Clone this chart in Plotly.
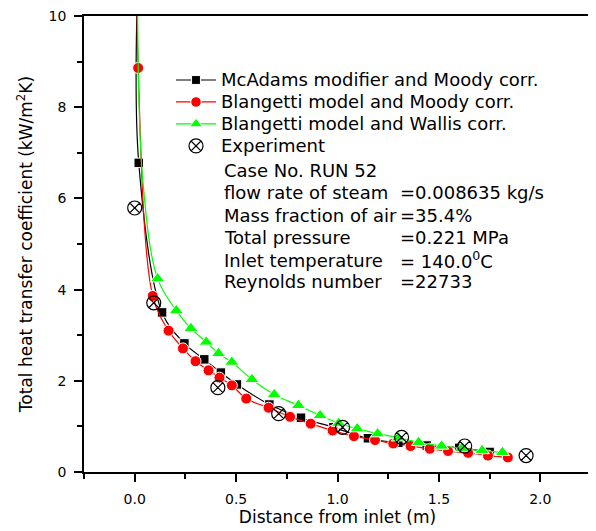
import plotly.graph_objects as go

# ---- data ----
# first point of each model curve is where the curve leaves the top of the frame (no marker)
mcadams_x = [0.012, 0.020, 0.135, 0.245, 0.343, 0.425, 0.504, 0.664, 0.820, 0.980, 1.150, 1.300, 1.440, 1.600, 1.750]
mcadams_y = [10.3, 6.78, 3.50, 2.82, 2.47, 2.18, 1.92, 1.48, 1.19, 0.98, 0.74, 0.64, 0.58, 0.53, 0.44]

blangetti_moody_x = [0.013, 0.017, 0.089, 0.167, 0.238, 0.300, 0.364, 0.418, 0.479, 0.550, 0.660, 0.766, 0.868,
                     0.976, 1.081, 1.185, 1.275, 1.360, 1.455, 1.545, 1.644, 1.742, 1.840]
blangetti_moody_y = [10.3, 8.86, 3.86, 3.10, 2.71, 2.43, 2.23, 2.07, 1.90, 1.61, 1.41, 1.21, 1.06,
                     0.91, 0.785, 0.70, 0.625, 0.57, 0.51, 0.46, 0.42, 0.36, 0.32]

blangetti_wallis_x = [0.014, 0.040, 0.113, 0.205, 0.277, 0.353, 0.413, 0.479, 0.578, 0.688, 0.807, 0.914, 1.006,
                      1.097, 1.198, 1.300, 1.400, 1.513, 1.613, 1.713, 1.813]
blangetti_wallis_y = [10.3, 6.4, 4.24, 3.54, 3.15, 2.85, 2.60, 2.41, 2.03, 1.70, 1.46, 1.24, 1.07,
                      0.95, 0.84, 0.75, 0.65, 0.57, 0.52, 0.47, 0.43]
wallis_hidden_markers = 2   # leading curve points drawn without a marker

exp_x = [0.000, 0.094, 0.410, 0.710, 1.025, 1.316, 1.627, 1.930]
exp_y = [5.79, 3.71, 1.85, 1.28, 0.98, 0.76, 0.57, 0.36]

series_names = ["McAdams modifier and Moody corr.", "Blangetti model and Moody corr.",
                "Blangetti model and Wallis corr.", "Experiment"]

info_labels = ["Case No. RUN 52", "flow rate of steam", "Mass fraction of air",
               "Total pressure", "Inlet temperature", "Reynolds number"]
info_values = ["", "=0.008635 kg/s", "=35.4%", "=0.221 MPa", "= 140.0<sup>0</sup>C", "=22733"]

x_ticks = [0.0, 0.5, 1.0, 1.5, 2.0]
y_ticks = [0, 2, 4, 6, 8, 10]

FONT = "DejaVu Sans, Liberation Sans, Arial, sans-serif"
TXT = 18

def big(s):
    return f'<span style="font-size:{TXT}px">{s}</span>'

def sizes(n, size, hidden=1):
    return [0] * hidden + [size] * (n - hidden)

fig = go.Figure()

fig.add_trace(go.Scatter(x=mcadams_x, y=mcadams_y, mode="lines+markers",
                         name=big(series_names[0]),
                         line=dict(color="black", width=1.2, shape="spline", smoothing=1),
                         marker=dict(symbol="square", size=sizes(len(mcadams_x), 9.5),
                                     color="black", opacity=1)))
fig.add_trace(go.Scatter(x=blangetti_moody_x, y=blangetti_moody_y, mode="lines+markers",
                         name=big(series_names[1]),
                         line=dict(color="#FF0000", width=1.2, shape="spline", smoothing=1),
                         marker=dict(symbol="circle", size=sizes(len(blangetti_moody_x), 11),
                                     color="#FF0000", opacity=1)))
fig.add_trace(go.Scatter(x=blangetti_wallis_x, y=blangetti_wallis_y, mode="lines+markers",
                         name=big(series_names[2]),
                         line=dict(color="#00FF00", width=1.2, shape="spline", smoothing=1),
                         marker=dict(symbol="triangle-up",
                                     size=sizes(len(blangetti_wallis_x), 12.5, wallis_hidden_markers),
                                     color="#00FF00", opacity=1)))
fig.add_trace(go.Scatter(x=exp_x, y=exp_y, mode="markers", name=big(series_names[3]),
                         marker=dict(symbol="circle-x-open", size=14, color="black", opacity=1,
                                     line=dict(width=1.2, color="black"))))

# positions below are in window pixels of the reference (plot frame 84..591 x 16..472)
row_px = [170, 192.5, 215, 237.5, 260, 282]
plot_top, plot_bot, plot_left, plot_w = 16, 472, 84, 507
for lab, val, py in zip(info_labels, info_values, row_px):
    yy = (plot_bot - py) / (plot_bot - plot_top)
    fig.add_annotation(x=(222 - plot_left) / plot_w, y=yy, xref="paper", yref="paper",
                       text=lab, showarrow=False, xanchor="left", yanchor="middle",
                       font=dict(family=FONT, size=TXT, color="black"))
    if val:
        fig.add_annotation(x=(398 - plot_left) / plot_w, y=yy, xref="paper", yref="paper",
                           text=val, showarrow=False, xanchor="left", yanchor="middle",
                           font=dict(family=FONT, size=TXT, color="black"))

# the page body adds an 8px offset, so the figure is 8px smaller and margins are 8px less
fig.update_layout(
    width=588, height=523,
    margin=dict(l=76, r=5, t=8, b=59),
    paper_bgcolor="white", plot_bgcolor="white",
    font=dict(family=FONT, size=14, color="black"),
    showlegend=True,
    legend=dict(x=(171 - plot_left) / plot_w, y=(plot_bot - 64) / (plot_bot - plot_top),
                xanchor="left", yanchor="top", bgcolor="rgba(0,0,0,0)",
                font=dict(family=FONT, size=14.6, color="black"),
                tracegroupgap=0, itemwidth=40),
)
fig.update_xaxes(range=[-0.25, 2.25], tickvals=x_ticks, ticktext=[f"{v:.1f}" for v in x_ticks],
                 ticks="outside", ticklen=8, tickwidth=1.5, tickcolor="black",
                 minor=dict(dtick=0.25, tick0=0, ticks="outside", ticklen=5, tickwidth=1.5, tickcolor="black"),
                 showline=True, linecolor="black", linewidth=1.5, mirror=True,
                 showgrid=False, zeroline=False, automargin=False,
                 title=dict(text="Distance from inlet (m)", font=dict(family=FONT, size=17), standoff=2),
                 tickfont=dict(family=FONT, size=14), ticklabelstandoff=5,
                 ticklabeloverflow="allow")
fig.update_yaxes(range=[0, 10], tickvals=y_ticks,
                 ticks="outside", ticklen=8, tickwidth=1.5, tickcolor="black",
                 minor=dict(dtick=1, tick0=0, ticks="outside", ticklen=5, tickwidth=1.5, tickcolor="black"),
                 showline=True, linecolor="black", linewidth=1.5, mirror=True,
                 showgrid=False, zeroline=False, automargin=False,
                 title=dict(text="Total heat transfer coefficient (kW/m<sup>2</sup>K)",
                            font=dict(family=FONT, size=17), standoff=12),
                 tickfont=dict(family=FONT, size=14), ticklabelstandoff=5,
                 ticklabeloverflow="allow")

fig.write_html("out.html")
